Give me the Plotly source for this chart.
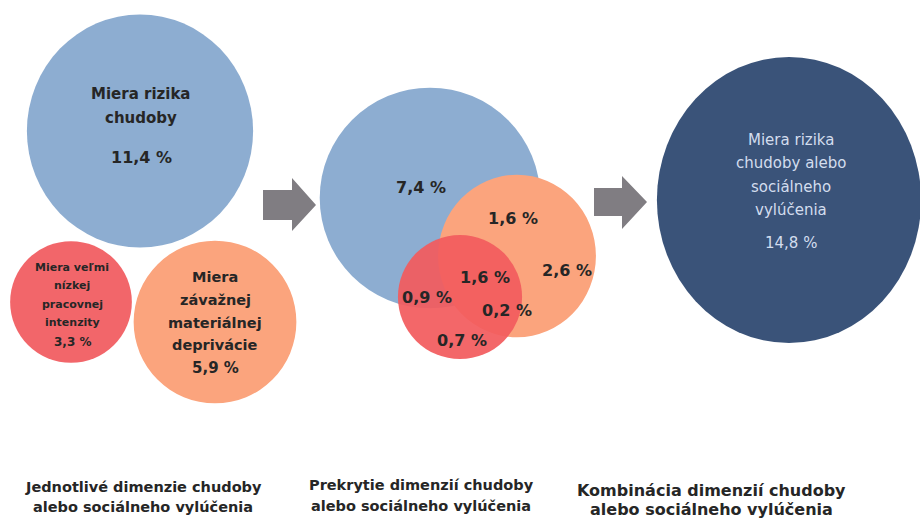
import math
import plotly.graph_objects as go

# ---------------- data ----------------
single_labels = [
    "Miera rizika<br>chudoby",
    "Miera veľmi<br>nízkej<br>pracovnej<br>intenzity",
    "Miera<br>závažnej<br>materiálnej<br>deprivácie",
]
single_values = [11.4, 3.3, 5.9]

overlap_regions = ["len riziko chudoby", "deprivácia + chudoba", "len deprivácia",
                   "všetky tri", "intenzita + chudoba", "intenzita + deprivácia", "len intenzita"]
overlap_values = [7.4, 1.6, 2.6, 1.6, 0.9, 0.2, 0.7]

combined_label = "Miera rizika<br>chudoby alebo<br>sociálneho<br>vylúčenia"
combined_value = 14.8

captions = [
    "Jednotlivé dimenzie chudoby<br>alebo sociálneho vylúčenia",
    "Prekrytie dimenzií chudoby<br>alebo sociálneho vylúčenia",
    "Kombinácia dimenzií chudoby<br>alebo sociálneho vylúčenia",
]

# ---------------- layout / styles ----------------
W, H = 920, 518
K = 33.5  # px per sqrt(%)

def rad(v):
    return K * math.sqrt(v)

def pct(v):
    return f"{v:.1f}".replace(".", ",") + " %"

BLUE = "#8dadd1"
RED = "#f2666a"
RED_MID = "#f25b5e"
ORANGE = "#fba47d"
NAVY = "#3a5379"
ARROW = "#807d82"
DARK = "#262626"
LIGHT = "#d3ddee"
FONT = "DejaVu Sans, Liberation Sans, Arial, sans-serif"

shapes = []
annotations = []

def circle(cx, cy, r, color, sx=1.0, sy=1.0, opacity=1.0):
    shapes.append(dict(type="circle", xref="x", yref="y",
                       x0=cx - r * sx, x1=cx + r * sx, y0=cy - r * sy, y1=cy + r * sy,
                       fillcolor=color, line=dict(width=0), opacity=opacity, layer="below"))

def text(x, y, s, size, color=DARK, bold=True):
    annotations.append(dict(x=x, y=y, xref="x", yref="y", showarrow=False,
                            text=f"<b>{s}</b>" if bold else s,
                            font=dict(family=FONT, size=size, color=color),
                            xanchor="center", yanchor="middle"))

def lines(x, y0, label, spacing, size, color=DARK, bold=True):
    for i, ln in enumerate(label.split("<br>")):
        text(x, y0 + i * spacing, ln, size, color, bold)

# ---- left panel: single dimensions
left_geom = [(140, 131, 1.03), (71, 302, 1.0), (215, 322, 1.0)]
left_colors = [BLUE, RED, ORANGE]
for (cx, cy, sy), v, c in zip(left_geom, single_values, left_colors):
    circle(cx, cy, rad(v), c, sy=sy)

lines(141, 94, single_labels[0], 24, 15)
text(141, 157, pct(single_values[0]), 16)
lines(72, 267, single_labels[1], 18.5, 11)
text(72, 342, pct(single_values[1]), 12)
lines(215, 277, single_labels[2], 22.8, 14.5)
text(215, 368, pct(single_values[2]), 15)

# ---- middle panel: overlaps (draw order: blue, orange, red)
mid_geom = [(430, 198), (517, 256), (460, 297)]
mid_scale = [0.975, 0.97, 1.02]
circle(mid_geom[0][0], mid_geom[0][1], rad(single_values[0]) * mid_scale[0], BLUE)
circle(mid_geom[1][0], mid_geom[1][1], rad(single_values[2]) * mid_scale[1], ORANGE, sy=1.03)
circle(mid_geom[2][0], mid_geom[2][1], rad(single_values[1]) * mid_scale[2], RED_MID, opacity=0.93)

mid_text_pos = [(421, 187), (513, 218), (567, 270), (485, 277), (427, 297), (507, 310), (462, 340)]
for (x, y), v in zip(mid_text_pos, overlap_values):
    text(x, y, pct(v), 16)

# ---- right panel: combination
circle(789, 200, rad(combined_value), NAVY, sx=1.025, sy=1.11)
lines(791, 140, combined_label, 23.3, 15, color=LIGHT, bold=False)
text(791, 243, pct(combined_value), 15, color=LIGHT, bold=False)

# ---- arrows
def arrow(x0, xm, x1, ys0, ys1, yh0, yh1, yt):
    path = (f"M {x0},{ys0} L {xm},{ys0} L {xm},{yh0} L {x1},{yt} "
            f"L {xm},{yh1} L {xm},{ys1} L {x0},{ys1} Z")
    shapes.append(dict(type="path", path=path, xref="x", yref="y",
                       fillcolor=ARROW, line=dict(width=0), layer="below"))

arrow(263, 292, 316, 190, 220, 178, 231, 205)
arrow(594, 622, 647, 188, 216, 176, 229, 202)

# ---- captions
cap_pos = [(143, 487, 20, 14.5), (421, 485, 21, 14.5), (711, 490, 19, 16)]
for (x, y, gap, s), cap in zip(cap_pos, captions):
    l1, l2 = cap.split("<br>")
    text(x, y, l1, s)
    text(x, y + gap, l2, s)

fig = go.Figure()
fig.add_trace(go.Scatter(x=[0, W], y=[0, H], mode="markers",
                         marker=dict(opacity=0), hoverinfo="skip", showlegend=False))
fig.update_layout(
    width=W, height=H,
    margin=dict(l=0, r=0, t=0, b=0),
    paper_bgcolor="white", plot_bgcolor="white",
    xaxis=dict(range=[0, W], visible=False, fixedrange=True),
    yaxis=dict(range=[H, 0], visible=False, fixedrange=True),
    shapes=shapes, annotations=annotations,
    showlegend=False,
)
fig.write_html("out.html", config={"displayModeBar": False},
               post_script="document.body.style.margin='0';document.body.style.overflow='hidden';")
